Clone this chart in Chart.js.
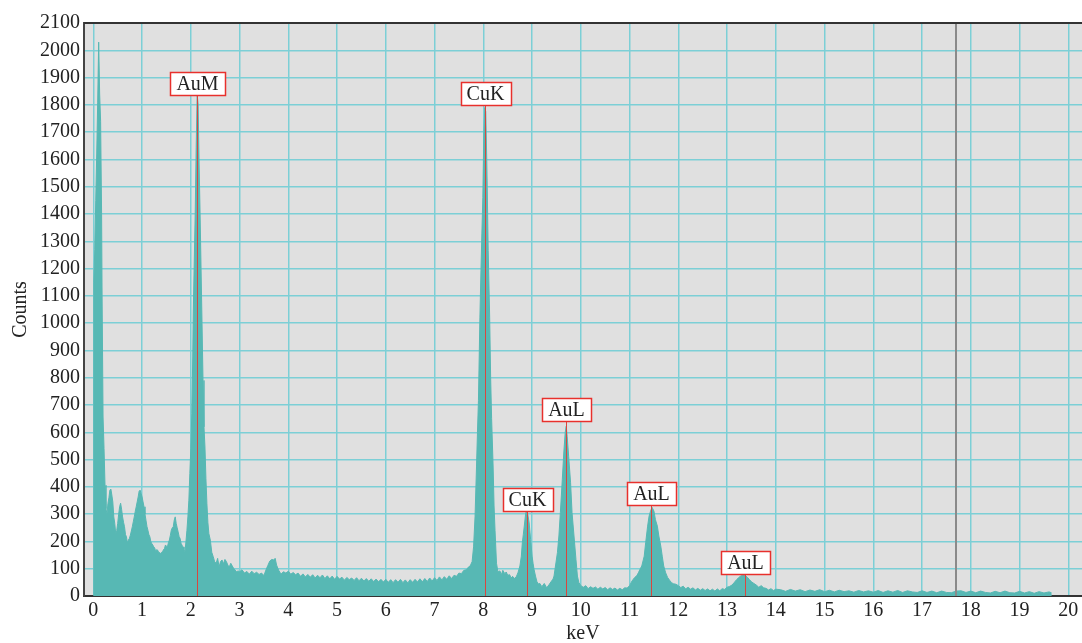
<!DOCTYPE html>
<html>
<head>
<meta charset="utf-8">
<script src="https://cdn.jsdelivr.net/npm/chart.js@4/dist/chart.umd.min.js"></script>
<style>
  html, body { margin: 0; padding: 0; background: #fff; }
  #wrap { width: 1082px; height: 643px; position: relative; }
</style>
</head>
<body>
<div id="wrap"><canvas id="spectrum"></canvas></div>
<script>
// EDS spectrum, values
const energy = [
  0.005, 0.01, 0.03, 0.05, 0.07, 0.09, 0.11, 0.13, 0.15, 0.17, 0.18,
  0.20, 0.22, 0.24, 0.26, 0.28, 0.30, 0.32, 0.34, 0.36, 0.38, 0.40,
  0.42, 0.44, 0.46, 0.48, 0.50, 0.52, 0.54, 0.56, 0.58, 0.60,
  0.62, 0.64, 0.66, 0.68, 0.70, 0.72, 0.74, 0.76, 0.78, 0.80,
  0.82, 0.84, 0.86, 0.88, 0.90, 0.92, 0.94, 0.96, 0.98, 1.00,
  1.02, 1.04, 1.06, 1.08, 1.10, 1.12, 1.14, 1.16, 1.18, 1.20,
  1.22, 1.24, 1.26, 1.28, 1.30, 1.32, 1.34, 1.36, 1.38, 1.40,
  1.42, 1.44, 1.46, 1.48, 1.50, 1.52, 1.54, 1.56, 1.58, 1.60,
  1.62, 1.64, 1.66, 1.68, 1.70, 1.72, 1.74, 1.76, 1.78, 1.80,
  1.82, 1.84, 1.86, 1.88, 1.90, 1.92, 1.94, 1.96, 1.98, 2.00,
  2.02, 2.04, 2.05, 2.07, 2.09, 2.11, 2.13, 2.15, 2.17, 2.19,
  2.21, 2.23, 2.25, 2.27, 2.29, 2.31, 2.33, 2.35, 2.37, 2.40,
  2.43, 2.46, 2.49, 2.52, 2.55, 2.58, 2.61, 2.64, 2.67, 2.70,
  2.73, 2.76, 2.79, 2.82, 2.85, 2.88, 2.91, 2.94, 2.97, 3.00,
  3.05, 3.10, 3.15, 3.20, 3.25, 3.30, 3.35, 3.40, 3.45, 3.50,
  3.54, 3.58, 3.62, 3.66, 3.70, 3.73, 3.76, 3.80, 3.85, 3.90,
  3.95, 4.00, 4.05, 4.10, 4.15, 4.20, 4.25, 4.30, 4.35, 4.40,
  4.45, 4.50, 4.55, 4.60, 4.65, 4.70, 4.75, 4.80, 4.85, 4.90,
  4.95, 5.00, 5.05, 5.10, 5.15, 5.20, 5.25, 5.30, 5.35, 5.40,
  5.45, 5.50, 5.55, 5.60, 5.65, 5.70, 5.75, 5.80, 5.85, 5.90,
  5.95, 6.00, 6.05, 6.10, 6.15, 6.20, 6.25, 6.30, 6.35, 6.40,
  6.45, 6.50, 6.55, 6.60, 6.65, 6.70, 6.75, 6.80, 6.85, 6.90,
  6.95, 7.00, 7.05, 7.10, 7.15, 7.20, 7.25, 7.30, 7.35, 7.40,
  7.45, 7.50, 7.55, 7.60, 7.65, 7.70, 7.73, 7.77, 7.80, 7.83,
  7.86, 7.88, 7.90, 7.93, 7.95, 7.97, 7.99, 8.01, 8.03, 8.05,
  8.07, 8.08, 8.10, 8.13, 8.15, 8.17, 8.20, 8.22, 8.24, 8.27,
  8.30, 8.34, 8.37, 8.40, 8.44, 8.47, 8.50, 8.54, 8.57, 8.60,
  8.64, 8.68, 8.71, 8.75, 8.78, 8.80, 8.82, 8.84, 8.87, 8.90,
  8.92, 8.94, 8.97, 9.00, 9.02, 9.04, 9.07, 9.10, 9.13, 9.16,
  9.20, 9.25, 9.30, 9.35, 9.40, 9.43, 9.45, 9.48, 9.52, 9.55,
  9.58, 9.62, 9.65, 9.68, 9.70, 9.72, 9.75, 9.79, 9.82, 9.86,
  9.90, 9.93, 9.96, 10.00, 10.05, 10.10, 10.15, 10.20, 10.25, 10.30,
  10.35, 10.40, 10.45, 10.50, 10.55, 10.60, 10.65, 10.70, 10.75, 10.80,
  10.85, 10.90, 10.95, 11.00, 11.05, 11.10, 11.15, 11.18, 11.22, 11.25,
  11.30, 11.33, 11.37, 11.40, 11.43, 11.46, 11.50, 11.53, 11.57, 11.60,
  11.64, 11.67, 11.70, 11.74, 11.78, 11.82, 11.86, 11.90, 11.95, 12.00,
  12.05, 12.10, 12.15, 12.20, 12.25, 12.30, 12.35, 12.40, 12.45, 12.50,
  12.55, 12.60, 12.65, 12.70, 12.75, 12.80, 12.85, 12.90, 12.95, 13.00,
  13.05, 13.10, 13.15, 13.19, 13.23, 13.26, 13.30, 13.34, 13.38, 13.42,
  13.46, 13.50, 13.55, 13.60, 13.65, 13.70, 13.75, 13.80, 13.85, 13.90,
  13.95, 14.00, 14.10, 14.20, 14.30, 14.40, 14.50, 14.60, 14.70, 14.80,
  14.90, 15.00, 15.10, 15.20, 15.30, 15.40, 15.50, 15.60, 15.70, 15.80,
  15.90, 16.00, 16.10, 16.20, 16.30, 16.40, 16.50, 16.60, 16.70, 16.80,
  16.90, 17.00, 17.10, 17.20, 17.30, 17.40, 17.50, 17.60, 17.70, 17.80,
  17.90, 18.00, 18.10, 18.20, 18.30, 18.40, 18.50, 18.60, 18.70, 18.80,
  18.90, 19.00, 19.10, 19.20, 19.30, 19.40, 19.50, 19.60, 19.63, 19.64
];
const counts = [
  0, 1150, 1270, 1450, 1620, 1810, 2030, 1840, 1740, 1400, 1100,
  656, 540, 406, 320, 300, 339, 360, 388, 392, 370, 345,
  290, 266, 229, 240, 266, 300, 327, 340, 318, 290,
  270, 254, 225, 217, 193, 205, 211, 223, 238, 254,
  272, 290, 310, 327, 345, 363, 384, 388, 376, 363,
  345, 327, 300, 278, 255, 241, 225, 217, 199, 192,
  187, 180, 176, 162, 170, 168, 160, 159, 156, 160,
  162, 170, 174, 187, 182, 180, 195, 205, 222, 241,
  250, 254, 278, 290, 266, 250, 235, 218, 211, 193,
  186, 180, 170, 162, 199, 240, 290, 351, 449, 540,
  668, 876, 1034, 1220, 1400, 1644, 1839, 1802, 1583, 1400,
  1200, 1000, 790, 620, 546, 430, 339, 270, 229, 205,
  160, 144, 125, 120, 138, 107, 126, 132, 118, 134,
  126, 113, 107, 120, 110, 101, 95, 89, 92, 89,
  96, 84, 90, 80, 91, 82, 87, 79, 84, 75,
  95, 112, 128, 134, 132, 138, 113, 95, 80, 89,
  84, 91, 80, 86, 78, 84, 72, 81, 70, 79,
  69, 78, 66, 76, 67, 77, 64, 74, 63, 73,
  61, 72, 62, 69, 58, 68, 60, 66, 57, 67,
  56, 65, 55, 64, 54, 63, 53, 62, 52, 61,
  51, 61, 50, 60, 49, 60, 50, 61, 49, 59,
  48, 60, 50, 61, 51, 63, 52, 64, 53, 66,
  55, 67, 57, 70, 59, 71, 61, 74, 64, 76,
  72, 84, 82, 94, 96, 107, 110, 126, 180, 290,
  473, 600, 717, 1022, 1180, 1327, 1461, 1693, 1790, 1775,
  1600, 1498, 1266, 1022, 802, 650, 480, 330, 241, 120,
  88, 92, 78, 94, 82, 88, 76, 78, 66, 72,
  64, 72, 85, 110, 146, 195, 225, 256, 305, 311,
  290, 268, 207, 146, 120, 98, 73, 52, 44, 46,
  34, 46, 30, 42, 55, 62, 73, 110, 159, 220,
  305, 427, 524, 600, 622, 585, 512, 415, 305, 220,
  134, 73, 49, 38, 32, 38, 27, 34, 28, 33,
  25, 32, 26, 31, 23, 30, 24, 29, 22, 28,
  23, 30, 29, 38, 55, 67, 75, 85, 100, 110,
  146, 195, 256, 293, 311, 325, 311, 280, 256, 220,
  183, 146, 110, 85, 68, 58, 49, 45, 43, 38,
  31, 36, 26, 32, 25, 30, 22, 28, 21, 27,
  20, 26, 19, 25, 18, 26, 19, 27, 24, 32,
  35, 40, 50, 59, 66, 71, 75, 78, 74, 68,
  60, 52, 46, 40, 32, 38, 30, 28, 22, 27,
  20, 25, 23, 17, 24, 18, 23, 16, 22, 17,
  23, 16, 21, 15, 21, 16, 19, 14, 20, 15,
  19, 14, 20, 13, 19, 14, 20, 13, 19, 15,
  13, 19, 13, 18, 12, 18, 13, 12, 18, 19,
  13, 18, 12, 18, 13, 11, 17, 12, 18, 12,
  11, 17, 11, 16, 10, 16, 11, 15, 14, 0
];

// peak identification labels
const peakLabels = ['AuM', 'CuK', 'CuK', 'AuL', 'AuL', 'AuL'];
const peakEnergy = [2.13, 8.03, 8.90, 9.70, 11.44, 13.37];
const peakCounts = [1836, 1800, 311, 640, 333, 80];
const cursorEnergy = 17.69;

const xTicks = [0, 1, 2, 3, 4, 5, 6, 7, 8, 9, 10, 11, 12, 13, 14, 15, 16, 17, 18, 19, 20];
const yTicks = [0, 100, 200, 300, 400, 500, 600, 700, 800, 900, 1000,
  1100, 1200, 1300, 1400, 1500, 1600, 1700, 1800, 1900, 2000, 2100];

const serif = "'Liberation Serif', 'DejaVu Serif', serif";
const gridColor = '#7ccfd6';

// gray plot background, borders, peak markers and cursor
const spectrumDecor = {
  id: 'spectrumDecor',
  beforeDraw(chart) {
    const a = chart.chartArea, ctx = chart.ctx;
    ctx.save();
    ctx.fillStyle = '#e0e0e0';
    ctx.fillRect(a.left, a.top, a.right - a.left, a.bottom - a.top);
    ctx.restore();
  },
  afterDatasetsDraw(chart) {
    const a = chart.chartArea, ctx = chart.ctx;
    const xs = chart.scales.x, ys = chart.scales.y;
    ctx.save();
    // cursor line
    const cx = Math.round(xs.getPixelForValue(cursorEnergy));
    ctx.strokeStyle = '#8a8a8a';
    ctx.lineWidth = 2;
    ctx.beginPath();
    ctx.moveTo(cx, a.top);
    ctx.lineTo(cx, a.bottom);
    ctx.stroke();

    ctx.font = '20px ' + serif;
    ctx.textAlign = 'center';
    ctx.textBaseline = 'middle';
    peakLabels.forEach((lbl, i) => {
      const px = Math.round(xs.getPixelForValue(peakEnergy[i])) + 0.5;
      const py = Math.round(ys.getPixelForValue(peakCounts[i]));
      ctx.strokeStyle = '#d9473f';
      ctx.lineWidth = 1;
      ctx.beginPath();
      ctx.moveTo(px, py);
      ctx.lineTo(px, a.bottom);
      ctx.stroke();
      const w = Math.ceil(ctx.measureText(lbl).width) + 12;
      const h = 23;
      const bx = Math.round(px - w / 2) + 0.5;
      const by = py - h + 0.5;
      ctx.fillStyle = '#ffffff';
      ctx.fillRect(bx, by, w, h);
      ctx.strokeStyle = '#e8302c';
      ctx.lineWidth = 1.5;
      ctx.strokeRect(bx, by, w, h);
      ctx.fillStyle = '#222';
      ctx.fillText(lbl, px, by + h / 2 + 1);
    });

    // top border
    ctx.strokeStyle = '#333';
    ctx.lineWidth = 2;
    ctx.beginPath();
    ctx.moveTo(a.left, a.top);
    ctx.lineTo(a.right, a.top);
    ctx.stroke();
    ctx.restore();
  }
};

document.addEventListener('DOMContentLoaded', function() {
  const ctx = document.getElementById('spectrum').getContext('2d');
  new Chart(ctx, {
    type: 'line',
    data: {
      datasets: [{
        data: energy.map((e, i) => ({x: e, y: counts[i]})),
        fill: 'origin',
        backgroundColor: '#57b8b4',
        borderColor: '#57b8b4',
        borderWidth: 1,
        pointRadius: 0,
        tension: 0
      }]
    },
    options: {
      responsive: true,
      maintainAspectRatio: false,
      animation: false,
      layout: {padding: {left: 0, top: 23, right: 0, bottom: 0}},
      plugins: {legend: {display: false}, tooltip: {enabled: false}},
      scales: {
        x: {
          type: 'linear',
          min: -0.191,
          max: 20.28,
          afterBuildTicks: s => { s.ticks = xTicks.map(v => ({value: v})); },
          afterFit: s => { s.height = 47; },
          grid: {color: gridColor, lineWidth: 1.5, drawTicks: false},
          border: {color: '#333', width: 2},
          ticks: {
            padding: 3,
            color: '#222',
            font: {family: serif, size: 20},
            maxRotation: 0,
            autoSkip: false,
            callback: v => String(v)
          },
          title: {
            display: true,
            text: 'keV',
            color: '#222',
            font: {family: serif, size: 20, lineHeight: 1},
            padding: {top: 0, bottom: -1}
          }
        },
        y: {
          min: 0,
          max: 2100,
          afterBuildTicks: s => { s.ticks = yTicks.map(v => ({value: v})); },
          afterFit: s => { s.width = 84; },
          grid: {color: gridColor, lineWidth: 1.5, drawTicks: false},
          border: {color: '#444', width: 2},
          ticks: {
            padding: 4,
            color: '#222',
            font: {family: serif, size: 20},
            autoSkip: false,
            callback: v => String(v)
          },
          title: {
            display: true,
            text: 'Counts',
            color: '#222',
            font: {family: serif, size: 20, lineHeight: 1.2},
            padding: {top: 9, bottom: 0}
          }
        }
      }
    },
    plugins: [spectrumDecor]
  });
});
</script>
</body>
</html>
